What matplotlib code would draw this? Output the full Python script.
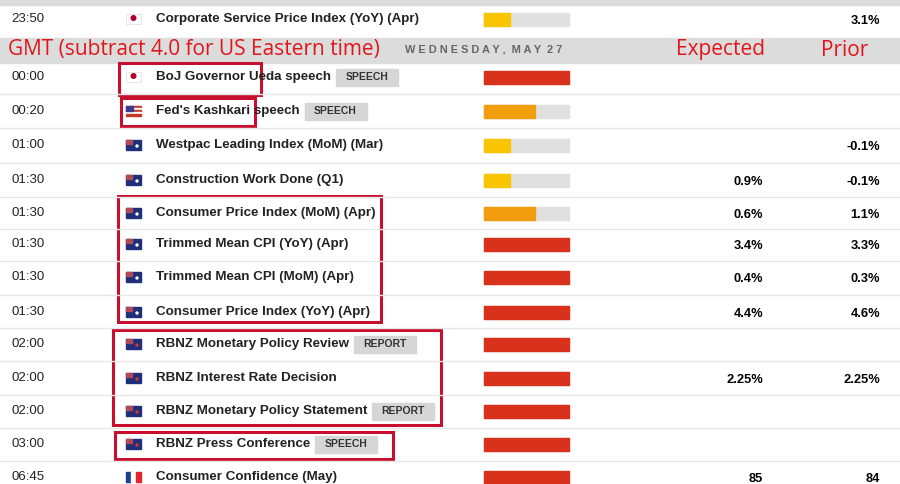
import matplotlib
matplotlib.use("Agg")
import matplotlib.pyplot as plt
from matplotlib.patches import Rectangle, Circle

times = ["23:50","00:00","00:20","01:00","01:30","01:30","01:30","01:30","01:30","02:00","02:00","02:00","03:00","06:45"]
countries = ["JP","JP","US","AU","AU","AU","AU","AU","AU","NZ","NZ","NZ","NZ","FR"]
events = ["Corporate Service Price Index (YoY) (Apr)","BoJ Governor Ueda speech","Fed's Kashkari speech",
          "Westpac Leading Index (MoM) (Mar)","Construction Work Done (Q1)","Consumer Price Index (MoM) (Apr)",
          "Trimmed Mean CPI (YoY) (Apr)","Trimmed Mean CPI (MoM) (Apr)","Consumer Price Index (YoY) (Apr)",
          "RBNZ Monetary Policy Review","RBNZ Interest Rate Decision","RBNZ Monetary Policy Statement",
          "RBNZ Press Conference","Consumer Confidence (May)"]
tags = ["","SPEECH","SPEECH","","","","","","","REPORT","","REPORT","SPEECH",""]
impact = [1,3,2,1,1,2,3,3,3,3,3,3,3,3]
expected = ["","","","","0.9%","0.6%","3.4%","0.4%","4.4%","","2.25%","","","85"]
prior = ["3.1%","","","-0.1%","-0.1%","1.1%","3.3%","0.3%","4.6%","","2.25%","","","84"]

row_y = [19,77,111,145,180,213,244,277,312,344,378,411,444,477]
fig = plt.figure(figsize=(9,4.84), dpi=100)
ax = fig.add_axes([0,0,1,1]); ax.set_xlim(0,900); ax.set_ylim(484,0); ax.axis("off")
fig.canvas.draw(); R = fig.canvas.get_renderer()
FONT = "Liberation Sans"
ax.add_patch(Rectangle((0,0),900,5,color="#dcdcdc"))
ax.add_patch(Rectangle((0,38),900,25,color="#dcdcdc"))
ax.text(8,50,"GMT (subtract 4.0 for US Eastern time)",color="#e0161b",fontsize=15,family="Open Sans",va="center")
ax.text(405,50,"W E D N E S D A Y ,  M A Y  2 7",color="#666",fontsize=7.9,fontweight="bold",family=FONT,va="center")
ax.text(720,50,"Expected",color="#e0161b",fontsize=15,family="Open Sans",va="center",ha="center")
ax.text(845,50,"Prior",color="#e0161b",fontsize=15,family="Open Sans",va="center",ha="center")
colors = {1:"#f7c600",2:"#f29d0d",3:"#d9321c"}
for i,y in enumerate(row_y):
    if i>0 and i<len(row_y)-1:
        sep = (y+row_y[i+1])/2
        ax.plot([0,900],[sep,sep],color="#e6e6e6",lw=1)
    ax.text(11,y,times[i],fontsize=9.5,family=FONT,color="#222",va="center")
    c = countries[i]; fx,fy = 126,y-5
    if c=="JP":
        ax.add_patch(Rectangle((fx,fy),15,10,color="white",ec="#ddd",lw=0.5))
        ax.add_patch(Circle((fx+7.5,fy+4),2.3,color="#b0002a"))
    elif c=="US":
        for k in range(5):
            ax.add_patch(Rectangle((fx,fy+k*2),15,2,color="#c0392b" if k%2==0 else "white"))
        ax.add_patch(Rectangle((fx,fy),7,5,color="#3c3b8e"))
    elif c in ("AU","NZ"):
        ax.add_patch(Rectangle((fx,fy),15,10,color="#1f2f7a"))
        ax.add_patch(Rectangle((fx,fy),6,4,color="#b04a5a"))
        ax.add_patch(Circle((fx+11,fy+6),1,color="white" if c=="AU" else "#d33"))
    elif c=="FR":
        for k,col in enumerate(["#1c3f94","white","#e2262b"]):
            ax.add_patch(Rectangle((fx+k*5,fy),5,10,color=col))
    t = ax.text(156,y,events[i],fontsize=9.6,fontweight="bold",family=FONT,color="#222",va="center")
    if tags[i]:
        bb = t.get_window_extent(R)
        x0 = bb.x1+5
        ax.add_patch(Rectangle((x0,y-8),62,17,color="#d6d6d6"))
        ax.text(x0+31,y,tags[i],fontsize=7.5,fontweight="bold",family=FONT,color="#333",va="center",ha="center")
    ax.add_patch(Rectangle((484,y-6.5),85,13,color="#e0e0e0"))
    ax.add_patch(Rectangle((484,y-6.5),85*{1:0.3,2:0.6,3:1.0}[impact[i]],13,color=colors[impact[i]]))
    if expected[i]:
        ax.text(763,y+2,expected[i],fontsize=9.3,fontweight="bold",family=FONT,ha="right",va="center")
    if prior[i]:
        ax.text(880,y+2,prior[i],fontsize=9.3,fontweight="bold",family=FONT,ha="right",va="center")
boxes = [(119,63,142,32),(121,98,134,28),(118,196,263,126),(113,330,328,95),(115,432,278,27)]
for bx,by,bw,bh in boxes:
    ax.add_patch(Rectangle((bx,by),bw,bh,fill=False,ec="#c8102e",lw=2.2))
fig.savefig("out.png",dpi=100)
